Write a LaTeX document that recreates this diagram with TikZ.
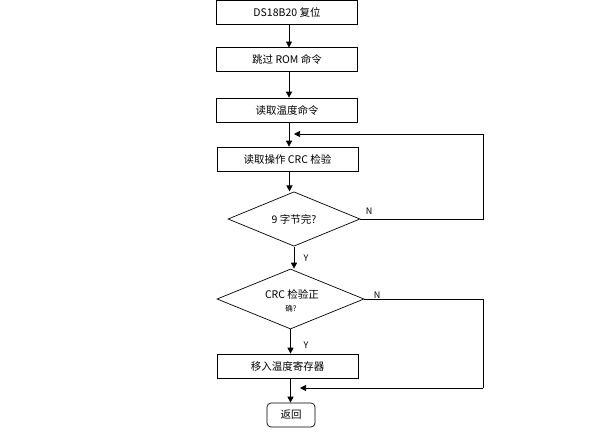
\documentclass[tikz,border=0pt]{standalone}
\usepackage{fontspec}
\setmainfont{Noto Sans CJK SC}
\usetikzlibrary{shapes.geometric,arrows.meta}
\begin{document}
\begin{tikzpicture}[x=1pt,y=-1pt,
  every node/.style={font=\fontsize{10.5}{12}\selectfont},
  procbox/.style={draw,line width=0.7pt,minimum width=141pt,minimum height=24pt,inner sep=0pt},
  decide/.style={draw,line width=0.7pt,shape=diamond,inner sep=0pt},
  termbox/.style={draw,line width=0.7pt,rounded corners=4pt,minimum width=48pt,minimum height=24pt,inner sep=0pt},
  flow/.style={line width=0.7pt,-{Triangle[length=6pt,width=6pt]}},
  plain/.style={line width=0.7pt},
  lbl/.style={font=\fontsize{9}{10}\selectfont}]
\useasboundingbox (0,0) rectangle (609,437);
\node[procbox] (b1) at (287,12.5) {DS18B20 复位};
\node[procbox] (b2) at (287,59.5) {跳过 ROM 命令};
\node[procbox] (b3) at (287,110) {读取温度命令};
\node[procbox] (b4) at (287.5,159) {读取操作 CRC 检验};
\node[decide,minimum width=132pt,minimum height=48pt] (d1) at (294,219) {9 字节完?};
\node[decide,minimum width=147pt,minimum height=60pt] (d2) at (290.5,299) {};
\node (d2t) at (292,294) {CRC 检验正};
\node[font=\fontsize{7.5}{8}\selectfont] (d2u) at (291,308.5) {确?};
\node[procbox] (b5) at (287.5,366) {移入温度寄存器};
\node[termbox] (ret) at (291,415) {返回};
\coordinate (c1) at (483,134);
\coordinate (c2) at (483,219);
\coordinate (t1) at (294,134);
\coordinate (c3) at (483,299);
\coordinate (c4) at (483,388);
\coordinate (t2) at (300,388);
\draw[flow] (289,24.5) -- (289,47.5);
\draw[flow] (b2.south) ++(2,0) coordinate (s2) -- (s2 |- b3.north);
\draw[flow] (b3.south) ++(2,0) coordinate (s3) -- (s3 |- b4.north);
\draw[flow] (b4.south) ++(2,0) coordinate (s4) -- (s4 |- d1.north);
\draw[flow] (d1.south) -- (d2.north -| d1.south);
\draw[flow] (d2.south) -- (d2.south |- b5.north);
\draw[flow] (b5.south) ++(3,0) coordinate (s5) -- (s5 |- ret.north);
\draw[plain] (d1.east) -- (c2) -- (c1);
\draw[flow] (c1) -- (t1);
\draw[plain] (d2.east) -- (c3) -- (c4);
\draw[flow] (c4) -- (t2);
\node[lbl] (n1) at (369,211) {N};
\node[lbl] (y1) at (306,258) {Y};
\node[lbl] (n2) at (377,295) {N};
\node[lbl] (y2) at (306,345) {Y};
\end{tikzpicture}
\end{document}
